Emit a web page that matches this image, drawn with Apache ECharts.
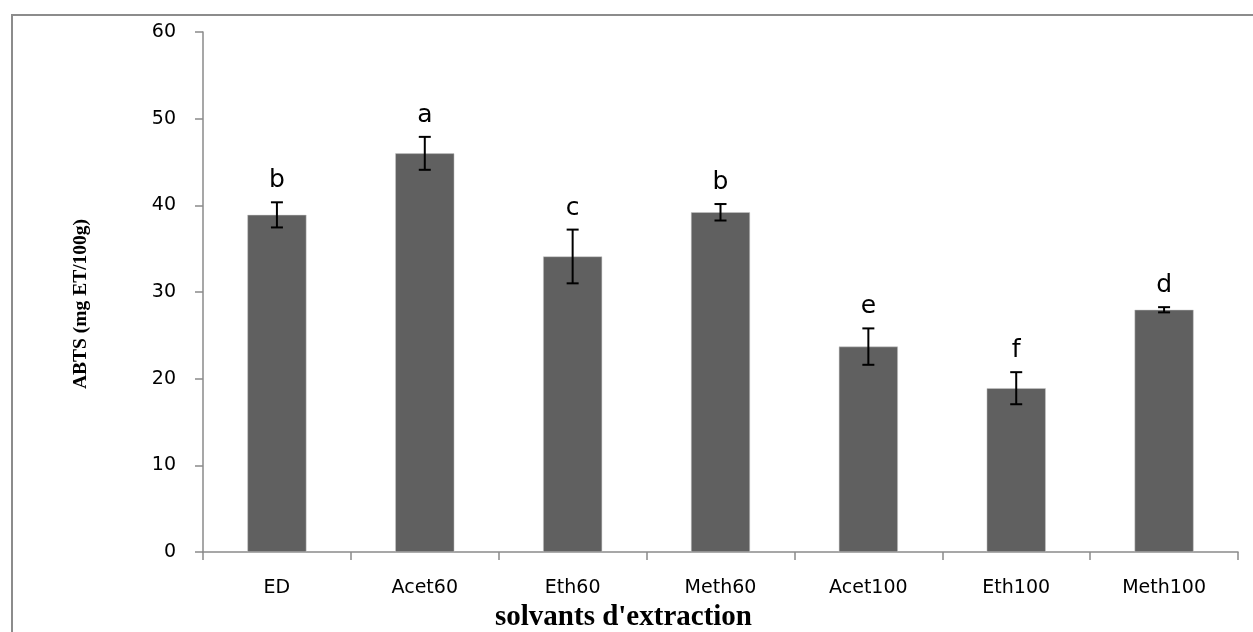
<!DOCTYPE html>
<html>
<head>
<meta charset="utf-8">
<script src="https://cdn.jsdelivr.net/npm/echarts@6/dist/echarts.min.js"></script>
<style>
html,body{margin:0;padding:0;background:#fff;}
#chart{width:1253px;height:632px;}
</style>
</head>
<body>
<div id="chart"></div>
<script>
const categories = ['ED', 'Acet60', 'Eth60', 'Meth60', 'Acet100', 'Eth100', 'Meth100'];
const means = [38.9, 46.0, 34.1, 39.2, 23.7, 18.9, 27.95];
const errors = [1.45, 1.9, 3.1, 0.95, 2.1, 1.85, 0.3];
const letters = ['b', 'a', 'c', 'b', 'e', 'f', 'd'];
const yTicks = [0, 10, 20, 30, 40, 50, 60];

const chart = echarts.init(document.getElementById('chart'), null, {renderer: 'canvas'});
const axisGrey = '#8a8a8a';

const errData = categories.map((c, i) => [i, means[i], errors[i], letters[i]]);

const option = {
  animation: false,
  backgroundColor: '#ffffff',
  grid: {left: 203, right: 15, top: 32, bottom: 80, containLabel: false, outerBoundsMode: 'none'},
  graphic: [{
    type: 'rect',
    shape: {x: 12, y: 15, width: 1270, height: 700},
    style: {fill: 'none', stroke: '#8c8c8c', lineWidth: 2},
    silent: true
  }],
  xAxis: {
    type: 'category',
    data: categories,
    axisLine: {lineStyle: {color: axisGrey, width: 1.5}},
    axisTick: {show: true, alignWithLabel: false, length: 8, lineStyle: {color: axisGrey, width: 1.5}},
    axisLabel: {color: '#000', fontFamily: 'DejaVu Sans', fontSize: 19, margin: 27},
    name: "solvants d'extraction",
    nameLocation: 'middle',
    nameGap: 46,
    nameTextStyle: {fontFamily: 'Liberation Serif', fontWeight: 'bold', fontSize: 29, color: '#000', padding: [0, 194, 0, 0]}
  },
  yAxis: {
    type: 'value',
    min: 0, max: 60, interval: 10,
    axisLine: {show: true, lineStyle: {color: axisGrey, width: 1.5}},
    axisTick: {show: true, length: 8, lineStyle: {color: axisGrey, width: 1.5}},
    splitLine: {show: false},
    axisLabel: {color: '#000', fontFamily: 'DejaVu Sans', fontSize: 19, margin: 27,
      formatter: v => yTicks.includes(v) ? String(v) : ''},
    name: 'ABTS (mg ET/100g)',
    nameLocation: 'middle',
    nameGap: 112,
    nameRotate: 90,
    nameTextStyle: {fontFamily: 'Liberation Serif', fontWeight: 'bold', fontSize: 19.5, color: '#000', padding: [0, 24, 0, 0]}
  },
  series: [{
    type: 'bar',
    data: means,
    barWidth: 59,
    itemStyle: {color: '#606060', borderColor: '#c8c8c8', borderWidth: 0.5},
    z: 2
  }, {
    type: 'custom',
    data: errData,
    z: 5,
    renderItem: function (params, api) {
      const i = api.value(0), m = api.value(1), e = api.value(2);
      const top = api.coord([i, m + e]);
      const bot = api.coord([i, m - e]);
      const cap = 6;
      const st = {stroke: '#000', lineWidth: 2};
      return {
        type: 'group',
        children: [
          {type: 'line', shape: {x1: top[0], y1: top[1], x2: bot[0], y2: bot[1]}, style: st},
          {type: 'line', shape: {x1: top[0] - cap, y1: top[1], x2: top[0] + cap, y2: top[1]}, style: st},
          {type: 'line', shape: {x1: bot[0] - cap, y1: bot[1], x2: bot[0] + cap, y2: bot[1]}, style: st},
          {type: 'text', x: top[0], y: top[1] - 9,
            style: {text: letters[params.dataIndex], fill: '#000', font: '25px "DejaVu Sans"',
              textAlign: 'center', textVerticalAlign: 'bottom'}}
        ]
      };
    }
  }]
};
chart.setOption(option);
</script>
</body>
</html>
